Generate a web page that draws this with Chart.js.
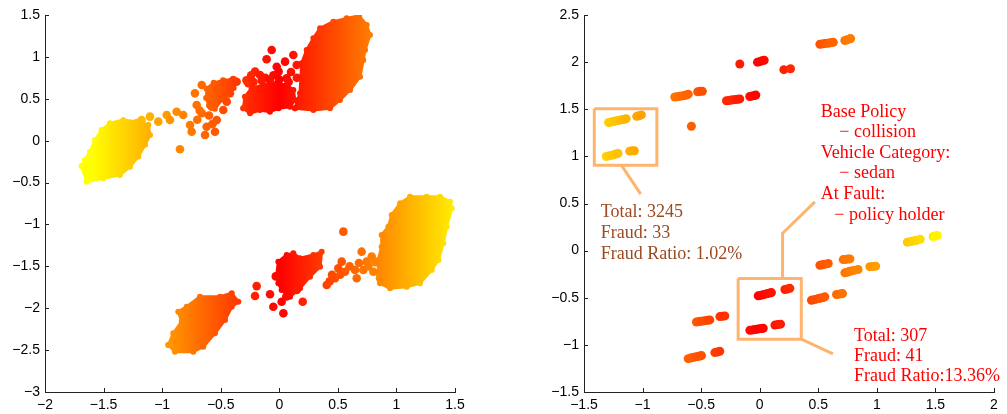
<!DOCTYPE html>
<html><head><meta charset="utf-8">
<script src="https://cdn.jsdelivr.net/npm/chart.js@4.4.1/dist/chart.umd.min.js"></script>
<style>
html,body{margin:0;padding:0;background:#fff;}
#wrap{position:relative;width:1007px;height:414px;overflow:hidden;background:#fff;}
canvas{position:absolute;top:0;}
#c1{left:0;} #c2{left:520px;}
</style></head><body>
<div id="wrap"><canvas id="c1" width="480" height="414"></canvas><canvas id="c2" width="487" height="414"></canvas></div>
<script>
// ---------- tick values / labels ----------
const leftXTicks = [-2,-1.5,-1,-0.5,0,0.5,1,1.5];
const leftXTickLabels = ['−2','−1.5','−1','−0.5','0','0.5','1','1.5'];
const leftYTicks = [-3,-2.5,-2,-1.5,-1,-0.5,0,0.5,1,1.5];
const leftYTickLabels = ['−3','−2.5','−2','−1.5','−1','−0.5','0','0.5','1','1.5'];
const rightXTicks = [-1.5,-1,-0.5,0,0.5,1,1.5,2];
const rightXTickLabels = ['−1.5','−1','−0.5','0','0.5','1','1.5','2'];
const rightYTicks = [-1.5,-1,-0.5,0,0.5,1,1.5,2,2.5];
const rightYTickLabels = ['−1.5','−1','−0.5','0','0.5','1','1.5','2','2.5'];

// ---------- left plot: dense clusters (outlines) ----------
const leftYellowBlob = [[-1.687,-0.302],[-1.659,-0.231],[-1.616,-0.132],[-1.573,0.008],[-1.516,0.127],[-1.445,0.207],[-1.331,0.247],[-1.217,0.227],[-1.118,0.187],[-1.104,0.068],[-1.146,-0.05],[-1.203,-0.19],[-1.274,-0.31],[-1.36,-0.41],[-1.502,-0.449],[-1.644,-0.49]];
const leftUpperOrangeBlob = [[-0.62,0.62],[-0.56,0.69],[-0.48,0.72],[-0.39,0.73],[-0.36,0.71],[-0.39,0.63],[-0.44,0.55],[-0.49,0.49],[-0.55,0.38],[-0.6,0.42],[-0.625,0.51]];
const leftUpperRedBlob = [[-0.307,0.386],[-0.293,0.525],[-0.236,0.625],[-0.136,0.665],[-0.022,0.685],[0.063,0.665],[0.12,0.605],[0.134,0.486],[0.092,0.406],[-0.006,0.386],[-0.08,0.346],[-0.165,0.366],[-0.25,0.327]];
const leftBigBlob = [[0.134,0.386],[0.177,0.565],[0.191,0.923],[0.234,1.082],[0.291,1.221],[0.348,1.341],[0.461,1.42],[0.575,1.46],[0.68,1.49],[0.746,1.381],[0.774,1.261],[0.732,1.082],[0.717,0.963],[0.689,0.764],[0.604,0.605],[0.518,0.486],[0.433,0.386],[0.291,0.366]];
const leftLowerOrangeBlob = [[-0.947,-2.439],[-0.89,-2.519],[-0.734,-2.519],[-0.649,-2.459],[-0.549,-2.30],[-0.463,-2.14],[-0.406,-1.982],[-0.35,-1.922],[-0.406,-1.822],[-0.506,-1.862],[-0.677,-1.862],[-0.79,-1.982],[-0.862,-2.041],[-0.833,-2.16],[-0.905,-2.30]];
const leftLowerRedBlob = [[-0.022,-1.603],[-0.008,-1.444],[0.063,-1.365],[0.12,-1.345],[0.177,-1.404],[0.291,-1.365],[0.362,-1.325],[0.348,-1.504],[0.262,-1.623],[0.177,-1.762],[0.092,-1.862],[0.02,-1.782],[-0.008,-1.703]];
const leftLowerYellowBlob = [[0.845,-1.584],[0.86,-1.703],[0.945,-1.762],[1.088,-1.743],[1.201,-1.703],[1.301,-1.544],[1.358,-1.424],[1.40,-1.225],[1.429,-1.027],[1.472,-0.807],[1.457,-0.728],[1.372,-0.668],[1.258,-0.668],[1.116,-0.668],[1.031,-0.748],[0.96,-0.887],[0.931,-1.027],[0.874,-1.126],[0.874,-1.266],[0.845,-1.424]];

// ---------- left plot: sparse points ----------
const leftUpperDots = [[-1.175,0.247],[-1.104,0.287],[-1.033,0.227],[-0.961,0.306],[-0.933,0.247],[-0.876,0.346],[-0.82,0.306],[-0.848,-0.103],
 [-0.762,0.187],[-0.748,0.107],[-0.72,0.565],[-0.705,0.426],[-0.662,0.665],[-0.662,0.327],[-0.62,0.167],[-0.634,0.068],[-0.591,0.525],[-0.577,0.406],[-0.549,0.107],[-0.534,0.247],[-0.52,0.605],[-0.478,0.366],[-0.463,0.685],[-0.421,0.565],[-0.393,0.724],[-0.364,0.704],[-0.449,0.466],[-0.6,0.3],[-0.68,0.36],[-0.57,0.2],[-0.7,0.25]];
const leftUpperRedDots = [[-0.065,1.082],[-0.108,0.971],[-0.207,0.824],[-0.264,0.685],[-0.165,0.784],[-0.022,0.883],[0.049,0.943],[-0.006,0.824],[0.12,1.023],[0.149,0.903],[0.063,0.744],[-0.12,0.75],[-0.05,0.78],[-0.28,0.72],[-0.22,0.7],[-0.15,0.72],[-0.08,0.72],[0.0,0.73],[0.08,0.7],[-0.24,0.78],[0.1,0.82],[0.15,0.75]];
const leftLowerRedDots = [[-0.193,-1.736],[-0.207,-1.854],[-0.079,-1.834],[0.02,-1.922],[-0.051,-1.982],[0.035,-2.061],[0.20,-1.922],[0.149,-1.782],[-0.03,-1.62],[0.06,-1.86]];
const leftLowerStreakDots = [[0.405,-1.723],[0.476,-1.643],[0.504,-1.524],[0.533,-1.444],[0.561,-1.564],[0.646,-1.544],[0.661,-1.643],[0.703,-1.325],[0.746,-1.444],[0.717,-1.544],[0.789,-1.384],[0.803,-1.564],[0.86,-1.643],[0.547,-1.086],[0.43,-1.68],[0.45,-1.6],[0.6,-1.5],[0.68,-1.46],[0.76,-1.5],[0.52,-1.6],[0.82,-1.45]];

// ---------- right plot points ----------
const rightUpperPoints = [
 [-1.29,1.36],[-1.27,1.365],[-1.25,1.37],[-1.23,1.375],[-1.21,1.38],[-1.19,1.385],[-1.17,1.39],[-1.15,1.395],[-1.14,1.40],[-1.05,1.425],[-1.03,1.43],[-1.01,1.44],
 [-1.31,1.0],[-1.29,1.005],[-1.27,1.01],[-1.25,1.015],[-1.23,1.025],[-1.21,1.03],[-1.11,1.055],[-1.09,1.06],[-1.07,1.06],
 [-0.725,1.63],[-0.705,1.633],[-0.685,1.637],[-0.665,1.64],[-0.645,1.645],[-0.625,1.65],[-0.61,1.66],[-0.53,1.685],[-0.51,1.69],[-0.49,1.69],
 [-0.583,1.32],
 [-0.284,1.59],[-0.264,1.593],[-0.244,1.597],[-0.224,1.60],[-0.204,1.603],[-0.184,1.607],[-0.17,1.61],[-0.085,1.635],[-0.065,1.64],[-0.045,1.645],[-0.033,1.65],
 [-0.17,1.98],[-0.019,2.00],[0.0,2.005],[0.02,2.015],[0.038,2.02],
 [0.206,1.92],[0.263,1.93],
 [0.514,2.19],[0.534,2.193],[0.554,2.197],[0.574,2.20],[0.594,2.203],[0.614,2.207],[0.628,2.21],[0.727,2.23],[0.747,2.237],[0.767,2.245],[0.776,2.25]];
const rightLowerPoints = [
 [1.26,0.09],[1.28,0.095],[1.30,0.10],[1.32,0.105],[1.34,0.11],[1.37,0.12],[1.48,0.15],[1.50,0.155],[1.516,0.16],
 [0.514,-0.155],[0.534,-0.15],[0.554,-0.145],[0.585,-0.137],[0.713,-0.095],[0.733,-0.093],[0.753,-0.09],[0.77,-0.088],
 [0.727,-0.236],[0.747,-0.23],[0.767,-0.22],[0.784,-0.215],[0.81,-0.207],[0.84,-0.20],[0.94,-0.17],[0.965,-0.168],[0.99,-0.165],
 [0.442,-0.527],[0.462,-0.52],[0.482,-0.515],[0.502,-0.509],[0.522,-0.503],[0.542,-0.497],[0.556,-0.49],[0.656,-0.466],[0.676,-0.462],[0.696,-0.458],[0.707,-0.456],
 [-0.013,-0.48],[0.007,-0.475],[0.027,-0.468],[0.047,-0.462],[0.067,-0.456],[0.087,-0.45],[0.10,-0.445],[0.215,-0.413],[0.235,-0.407],[0.257,-0.40],
 [-0.084,-0.845],[-0.064,-0.842],[-0.044,-0.838],[-0.024,-0.835],[-0.004,-0.83],[0.016,-0.827],[0.03,-0.824],[0.13,-0.79],[0.155,-0.785],[0.178,-0.78],
 [-0.54,-0.757],[-0.52,-0.753],[-0.50,-0.75],[-0.48,-0.746],[-0.46,-0.742],[-0.44,-0.738],[-0.426,-0.735],[-0.34,-0.70],[-0.32,-0.697],[-0.298,-0.693],
 [-0.611,-1.146],[-0.591,-1.14],[-0.571,-1.133],[-0.551,-1.128],[-0.531,-1.123],[-0.511,-1.118],[-0.497,-1.114],[-0.383,-1.082],[-0.363,-1.075],[-0.341,-1.068]];

// ---------- right plot annotation geometry ----------
const box1 = [[-1.412,1.505],[-0.878,1.505],[-0.878,0.905],[-1.412,0.905],[-1.412,1.505]];
const leader1 = [[-1.18,0.905],[-1.016,0.60]];
const box2 = [[-0.184,-0.296],[0.355,-0.296],[0.355,-0.94],[-0.184,-0.94],[-0.184,-0.296]];
const leader2 = [[0.195,-0.296],[0.195,0.184],[0.471,0.518]];
const leader3 = [[0.355,-0.94],[0.625,-1.095]];

const brownNoteLines = ['Total: 3245','Fraud: 33','Fraud Ratio: 1.02%'];
const redRuleLines = ['Base Policy','− collision','Vehicle Category:','− sedan','At Fault:','− policy holder'];
const redTotalLines = ['Total: 307','Fraud: 41','Fraud Ratio:13.36%'];

// ---------- styling helpers ----------
const FONT_SANS = '"Liberation Sans", Arial, Helvetica, sans-serif';
const FONT_SERIF = '"Liberation Serif", "Times New Roman", serif';
const BOX_COLOR = '#FFB46E';

function cmap(x){ // autumn-like colormap driven by horizontal position
  const g = Math.max(0, Math.min(255, Math.round(160*Math.abs(x))));
  return 'rgb(255,' + g + ',0)';
}
const gradCache = new WeakMap();
function gradFor(chart){
  const a = chart.chartArea, xs = chart.scales && chart.scales.x;
  if (!a || !xs) return 'rgb(255,80,0)';
  const key = a.left + ':' + a.right;
  const c = gradCache.get(chart);
  if (c && c.key === key) return c.g;
  const g = chart.ctx.createLinearGradient(a.left,0,a.right,0);
  const n = 140;
  for (let i=0;i<=n;i++){ const v = xs.min + (xs.max-xs.min)*i/n; g.addColorStop(i/n, cmap(v)); }
  gradCache.set(chart,{key,g});
  return g;
}
const toXY = pts => pts.map(([x,y]) => ({x,y}));

function blobDataset(pts){
  const d = toXY(pts); d.push({x:pts[0][0], y:pts[0][1]});
  return { data:d, showLine:true, fill:'shape', order:5,
    backgroundColor: c => gradFor(c.chart), borderColor: c => gradFor(c.chart),
    borderWidth:3, borderJoinStyle:'round', pointRadius:3, pointHoverRadius:3, pointBorderWidth:0,
    pointBackgroundColor: c => cmap(c.raw ? c.raw.x : 0) };
}
function dotDataset(pts, r){
  return { data:toXY(pts), showLine:false, order:1, pointRadius:r, pointHoverRadius:r, pointBorderWidth:0,
    pointBackgroundColor: c => cmap(c.raw ? c.raw.x : 0), backgroundColor: c => cmap(c.raw ? c.raw.x : 0) };
}
function pathDataset(pts){
  return { data:toXY(pts), showLine:true, fill:false, order:3, borderColor:BOX_COLOR, borderWidth:3,
    borderJoinStyle:'miter', pointRadius:0, pointHoverRadius:0 };
}

function scaleCfg(ticks, labels, extra){
  return Object.assign({
    type:'linear', min:ticks[0], max:ticks[ticks.length-1],
    afterBuildTicks: s => { s.ticks = ticks.map(v => ({value:v})); },
    ticks:{ autoSkip:false, maxRotation:0, minRotation:0, padding:5, color:'#000',
      font:{family:FONT_SANS, size:14}, callback:(v,i) => labels[i] },
    grid:{ display:true, drawOnChartArea:false, drawTicks:false },
    border:{ display:true, color:'#222', width:1 }
  }, extra);
}

const inTicks = { id:'inTicks', afterDraw(chart){
  const ctx = chart.ctx, a = chart.chartArea, xs = chart.scales.x, ys = chart.scales.y;
  ctx.save(); ctx.strokeStyle = '#222'; ctx.lineWidth = 1; ctx.beginPath();
  xs.ticks.forEach(t => { const p = Math.round(xs.getPixelForValue(t.value)) + 0.5; ctx.moveTo(p, a.bottom); ctx.lineTo(p, a.bottom-4); });
  ys.ticks.forEach(t => { const p = Math.round(ys.getPixelForValue(t.value)) + 0.5; ctx.moveTo(a.left, p); ctx.lineTo(a.left+4, p); });
  ctx.stroke(); ctx.restore();
}};
function notesPlugin(items){
  return { id:'notes', afterDatasetsDraw(chart){
    const ctx = chart.ctx, xs = chart.scales.x, ys = chart.scales.y;
    ctx.save(); ctx.font = '18px ' + FONT_SERIF; ctx.textBaseline = 'middle'; ctx.textAlign = 'left';
    items.forEach(it => { ctx.fillStyle = it.color; ctx.fillText(it.text, xs.getPixelForValue(it.x), ys.getPixelForValue(it.y)); });
    ctx.restore();
  }};
}

const baseOpts = (padRight) => ({
  responsive:false, animation:false, devicePixelRatio:1,
  layout:{ padding:{ left:0, right:padRight, top:15, bottom:0 } },
  plugins:{ legend:{display:false}, tooltip:{enabled:false} },
  events:[]
});

// ---------- left chart ----------
const opts1 = baseOpts(25);
opts1.scales = {
  x: scaleCfg(leftXTicks, leftXTickLabels, { position:'bottom', afterFit: s => { s.height = 22; } }),
  y: scaleCfg(leftYTicks, leftYTickLabels, { position:'left', afterFit: s => { s.width = 45; } })
};
new Chart(document.getElementById('c1'), {
  type:'scatter',
  data:{ datasets:[
    dotDataset(leftUpperDots, 4.3), dotDataset(leftUpperRedDots, 4.3),
    dotDataset(leftLowerRedDots, 4.3), dotDataset(leftLowerStreakDots, 4.3),
    blobDataset(leftYellowBlob), blobDataset(leftUpperOrangeBlob), blobDataset(leftUpperRedBlob), blobDataset(leftBigBlob),
    blobDataset(leftLowerOrangeBlob), blobDataset(leftLowerRedBlob), blobDataset(leftLowerYellowBlob)
  ]},
  options: opts1,
  plugins:[inTicks]
});

// ---------- right chart ----------
const noteItems = [];
const brownPos = {x:-1.357, y:[0.402,0.184,-0.036]};
brownNoteLines.forEach((t,i) => noteItems.push({text:t, x:brownPos.x, y:brownPos.y[i], color:'#9B4A22'}));
const rulePos = {x:[0.521,0.679,0.521,0.679,0.521,0.637], y:[1.463,1.251,1.036,0.818,0.601,0.378]};
redRuleLines.forEach((t,i) => noteItems.push({text:t, x:rulePos.x[i], y:rulePos.y[i], color:'#ff0000'}));
const totalPos = {x:0.805, y:[-0.906,-1.118,-1.338]};
redTotalLines.forEach((t,i) => noteItems.push({text:t, x:totalPos.x, y:totalPos.y[i], color:'#ff0000'}));

const opts2 = baseOpts(13);
opts2.scales = {
  x: scaleCfg(rightXTicks, rightXTickLabels, { position:'bottom', afterFit: s => { s.height = 22; } }),
  y: scaleCfg(rightYTicks, rightYTickLabels, { position:'left', afterFit: s => { s.width = 64; } })
};
new Chart(document.getElementById('c2'), {
  type:'scatter',
  data:{ datasets:[
    dotDataset(rightUpperPoints, 4.5), dotDataset(rightLowerPoints, 4.5),
    pathDataset(box1), pathDataset(leader1), pathDataset(box2), pathDataset(leader2), pathDataset(leader3)
  ]},
  options: opts2,
  plugins:[inTicks, notesPlugin(noteItems)]
});
</script>
</body></html>
